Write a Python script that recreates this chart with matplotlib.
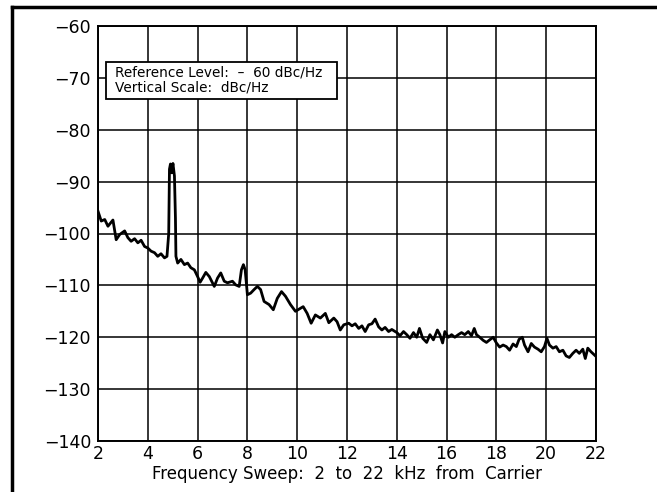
import matplotlib
matplotlib.use("Agg")
import matplotlib.pyplot as plt
from matplotlib.lines import Line2D
from matplotlib.patches import Rectangle
import numpy as np

# traced spectrum (kHz from carrier, dBc/Hz)
freq_khz = [
    2.0, 2.13, 2.27, 2.4, 2.6, 2.73, 2.87, 3.07, 3.2, 3.33, 3.47, 3.6, 3.73, 3.87,
    4.0, 4.13, 4.27, 4.4, 4.53, 4.67, 4.77, 4.84, 4.87, 4.91, 4.96, 5.01, 5.07, 5.11,
    5.13, 5.2, 5.33, 5.47, 5.6, 5.73, 5.87, 6.0, 6.1, 6.2, 6.33, 6.47, 6.67, 6.8,
    6.93, 7.07, 7.2, 7.4, 7.53, 7.67, 7.76, 7.84, 7.91, 8.0, 8.13, 8.27, 8.4, 8.53,
    8.67, 8.87, 9.04, 9.2, 9.37, 9.53, 9.73, 9.93, 10.07, 10.24, 10.4, 10.56, 10.73,
    10.93, 11.13, 11.27, 11.47, 11.6, 11.73, 11.87, 12.07, 12.2, 12.33, 12.47, 12.6,
    12.73, 12.87, 13.0, 13.13, 13.27, 13.4, 13.53, 13.67, 13.8, 14.0, 14.13, 14.27,
    14.4, 14.53, 14.67, 14.8, 14.91, 15.04, 15.2, 15.33, 15.47, 15.63, 15.73, 15.84,
    15.93, 16.07, 16.2, 16.33, 16.47, 16.6, 16.73, 16.87, 17.0, 17.11, 17.2, 17.33,
    17.47, 17.6, 17.73, 17.87, 18.0, 18.13, 18.27, 18.4, 18.53, 18.67, 18.8, 18.91,
    19.04, 19.13, 19.27, 19.4, 19.53, 19.67, 19.8, 19.93, 20.03, 20.13, 20.27, 20.4,
    20.53, 20.67, 20.8, 20.93, 21.07, 21.2, 21.33, 21.47, 21.57, 21.67, 21.8, 22.0,
]
level_dbc = [
    -95.7, -97.6, -97.3, -98.6, -97.4, -101.2, -100.2, -99.5, -100.8, -101.5, -101.0,
    -101.8, -101.3, -102.5, -102.8, -103.4, -103.7, -104.4, -103.9, -104.7, -104.4,
    -100.0, -87.6, -86.6, -88.3, -86.5, -88.9, -97.0, -104.4, -105.7, -105.0, -106.0,
    -105.7, -106.6, -107.0, -108.3, -109.4, -108.6, -107.5, -108.3, -110.2, -108.6,
    -107.6, -109.2, -109.5, -109.2, -109.9, -110.2, -107.0, -106.0, -107.0, -111.8,
    -111.5, -110.8, -110.2, -110.8, -113.1, -113.7, -114.7, -112.5, -111.2, -112.1,
    -113.7, -115.0, -114.6, -114.1, -115.4, -117.3, -115.7, -116.3, -115.4, -117.2,
    -116.3, -117.0, -118.6, -117.6, -117.3, -117.8, -117.4, -118.3, -117.8, -118.9,
    -117.6, -117.4, -116.5, -118.0, -118.6, -118.1, -118.9, -118.5, -119.1, -119.7,
    -118.9, -119.5, -120.2, -119.1, -120.0, -118.3, -120.2, -121.0, -119.5, -120.5,
    -118.6, -119.5, -121.1, -118.9, -120.0, -119.5, -120.0, -119.5, -119.1, -119.5,
    -118.9, -119.7, -118.3, -119.5, -120.0, -120.6, -121.0, -120.5, -120.0, -121.1,
    -121.9, -121.5, -121.8, -122.5, -121.3, -121.8, -120.4, -120.0, -121.5, -122.8,
    -121.2, -121.9, -122.3, -122.8, -121.8, -120.2, -121.5, -122.1, -121.8, -122.8,
    -122.5, -123.6, -123.9, -123.1, -122.5, -123.1, -122.3, -124.1, -122.1, -122.8,
    -123.7,
]

x_ticks = [2, 4, 6, 8, 10, 12, 14, 16, 18, 20, 22]
y_ticks = [-60, -70, -80, -90, -100, -110, -120, -130, -140]
x_label = "Frequency Sweep:  2  to  22  kHz  from  Carrier"
note_lines = ["Reference Level:  \u2013  60 dBc/Hz", "Vertical Scale:  dBc/Hz"]

fig = plt.figure(figsize=(6.57, 4.92), dpi=100)
ax = fig.add_axes([98 / 657, 1 - 441 / 492, 498 / 657, 415 / 492])

ax.plot(freq_khz, level_dbc, color="black", lw=2.0, zorder=3)

ax.set_xlim(2, 22)
ax.set_ylim(-140, -60)
ax.set_xticks(x_ticks)
ax.set_yticks(y_ticks)
ax.set_yticklabels([str(v).replace("-", "\u2212") for v in y_ticks])
ax.tick_params(length=0, labelsize=12.5, pad=5)
ax.tick_params(axis="x", pad=3)
ax.grid(True, color="black", lw=1.1)
for s in ax.spines.values():
    s.set_linewidth(1.4)
ax.set_xlabel(x_label, fontsize=12, labelpad=1)

# annotation box
ax.add_patch(Rectangle((0.016, 0.824), 0.464, 0.089, transform=ax.transAxes,
                       facecolor="white", edgecolor="black", lw=1.3, zorder=4))
ax.text(0.034, 0.887, note_lines[0], transform=ax.transAxes, fontsize=9.8,
        va="center", zorder=5)
ax.text(0.034, 0.851, note_lines[1], transform=ax.transAxes, fontsize=9.8,
        va="center", zorder=5)

# outer frame (top and left only)
fig.add_artist(Line2D([12 / 657, 12 / 657], [0, 1 - 7 / 492], color="black", lw=2.5))
fig.add_artist(Line2D([12 / 657, 1], [1 - 7 / 492, 1 - 7 / 492], color="black", lw=2.5))

fig.savefig("out.png", dpi=100)
